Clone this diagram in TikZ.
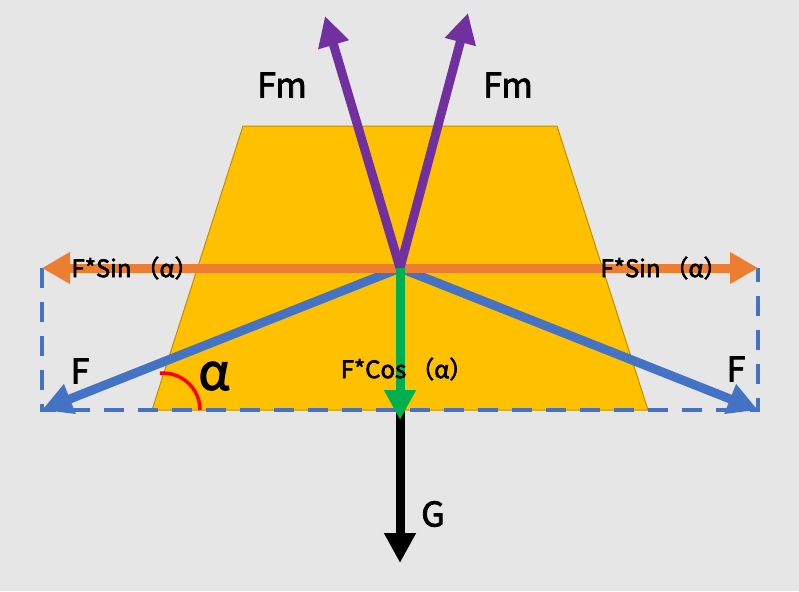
\documentclass[tikz,border=0pt]{standalone}
\usepackage{fontspec}
\setmainfont{Noto Sans CJK SC}
\newfontfamily\lblfont{Noto Sans CJK SC}[FakeBold=2.5]
\usetikzlibrary{arrows.meta}
\definecolor{bggray}{HTML}{E7E6E6}
\definecolor{gold}{HTML}{FFC000}
\definecolor{golddark}{HTML}{BF9000}
\definecolor{forceblue}{HTML}{4472C4}
\definecolor{forceorange}{HTML}{ED7D31}
\definecolor{forcepurple}{HTML}{7030A0}
\definecolor{forcegreen}{HTML}{00B050}

\begin{document}
\begin{tikzpicture}[x=1pt,y=-1pt,
  force/.style={line width=9pt,-{Triangle[length=30pt,width=30pt]}},
  lbl/.style={font=\lblfont\fontsize{34}{36}\selectfont,inner sep=0pt},
  small/.style={font=\lblfont\fontsize{24}{26}\selectfont,inner sep=0pt}]
\fill[bggray] (0,0) rectangle (799,591);
\useasboundingbox (0,0) rectangle (799,591);

% the block
\draw[fill=gold,draw=golddark,line width=1pt] (243,126) -- (557,126) -- (648,410) -- (152,410) -- cycle;

\coordinate (O) at (400,268);
\coordinate (LT) at (42,268);
\coordinate (RT) at (758,268);
\coordinate (LB) at (42,410);
\coordinate (RB) at (758,410);

% dashed frame
\draw[forceblue,line width=4pt,dash pattern=on 20pt off 14pt] (LT) -- (LB) -- (RB) -- (RT);

\draw[forceblue,force] (O) -- (LB);
\draw[forceblue,force] (O) -- (RB);

\draw[forceorange,line width=9pt,{Triangle[length=28pt,width=30pt]}-{Triangle[length=28pt,width=30pt]}] (LT) -- (RT);

\draw[forcepurple,force] (O) -- (325,16);
\draw[forcepurple,force] (O) -- (468,13);

\draw[black,force] (400,410) -- (400,563);
\draw[forcegreen,force] (O) -- (400,420);

% angle
\draw[red,line width=3.5pt] (200,410) arc[start angle=0,end angle=-95,radius=37];

\node[lbl] (fmL) at (282,85) {Fm};
\node[lbl] (fmR) at (508,85) {Fm};
\node[small] (sinL) at (135,268) {F*Sin\hspace{4pt}（α）};
\node[small] (sinR) at (664,268) {F*Sin\hspace{4pt}（α）};
\node[lbl] (fL) at (80,371) {F};
\node[lbl] (fR) at (736,369) {F};
\node[small] (cos) at (407,369) {F*Cos\hspace{4pt}（α）};
\node[lbl] (g) at (433,514) {G};
\node[font=\lblfont\fontsize{50}{52}\selectfont,inner sep=0pt] (alpha) at (214,376) {α};
\end{tikzpicture}
\end{document}
